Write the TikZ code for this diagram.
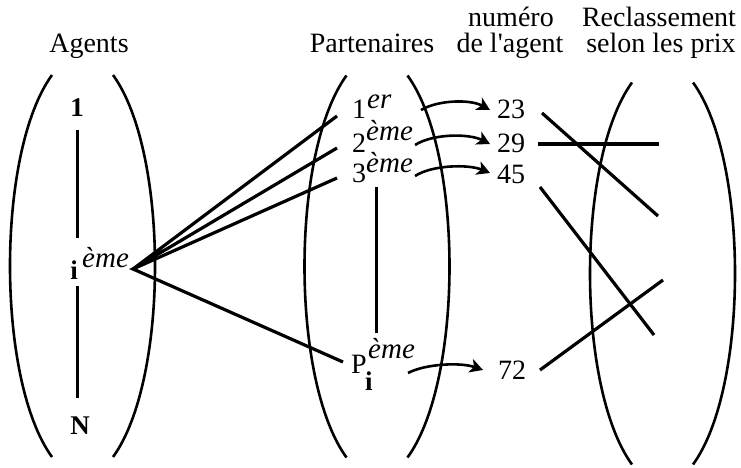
\documentclass[tikz,border=0pt]{standalone}
\usepackage{fontspec}
\setmainfont{Liberation Serif}
\usetikzlibrary{arrows.meta}
\begin{document}
\begin{tikzpicture}[x=1pt,y=-1pt,
  txt/.style={inner sep=0pt,font=\fontsize{28}{30}\selectfont},
  bld/.style={inner sep=0pt,font=\fontsize{27}{29}\selectfont\bfseries},
  sup/.style={inner sep=0pt,font=\fontsize{29}{30}\selectfont\itshape},
  paren/.style={line width=2.6pt},
  link/.style={line width=3.2pt},
  bar/.style={line width=3pt},
  arr/.style={line width=2.6pt,-{Stealth[length=13pt,width=14pt,inset=3.5pt]}}]
\useasboundingbox (0,0) rectangle (741,468);
% headings
\node[txt,anchor=base] (hAg) at (89,53) {Agents};
\node[txt,anchor=base] (hPa) at (372,53) {Partenaires};
\node[txt,anchor=base] (hNu1) at (511,27) {numéro};
\node[txt,anchor=base] (hNu2) at (510,53) {de l\textquotesingle agent};
\node[txt,anchor=base] (hRe1) at (659,27) {Reclassement};
\node[txt,anchor=base] (hRe2) at (661,53) {selon les prix};
% parentheses (elliptic arcs)
\foreach \cx/\cy in {82/266, 376.5/266.5, 662/273.5}{
  \draw[paren] (\cx-30,\cy-191) .. controls (\cx-86,\cy-114) and (\cx-86,\cy+114) .. (\cx-30,\cy+191);
  \draw[paren] (\cx+31,\cy-191) .. controls (\cx+87,\cy-114) and (\cx+87,\cy+114) .. (\cx+31,\cy+191);
}
% agents
\node[bld,anchor=base] (a1) at (77,117) {1};
\node[bld,anchor=base] (ai) at (74,279) {i};
\node[sup,anchor=base west] (aisup) at (82,267) {ème};
\node[bld,anchor=base] (aN) at (80,434) {N};
\coordinate (a1b) at (77,130);
\coordinate (aia) at (77,238);
\coordinate (aib) at (77,286);
\coordinate (aNa) at (77,398);
\draw[bar] (a1b) -- (aia);
\draw[bar] (aib) -- (aNa);
% partners
\node[txt,anchor=base west] (p1) at (352,118) {1};
\node[sup,anchor=base west] (p1s) at (367,109) {er};
\node[txt,anchor=base west] (p2) at (352,152) {2};
\node[sup,anchor=base west] (p2s) at (366,140) {ème};
\node[txt,anchor=base west] (p3) at (352,182) {3};
\node[sup,anchor=base west] (p3s) at (366,172) {ème};
\node[txt,anchor=base west] (pP) at (351,373) {P};
\node[bld,anchor=base west] (pPi) at (365,390) {i};
\node[sup,anchor=base west] (pPs) at (368,358) {ème};
\coordinate (pa) at (376,187);
\coordinate (pb) at (376,333);
\draw[bar] (pa) -- (pb);
% fan from agent i
\coordinate (v) at (133,269);
\coordinate (e1) at (337,116);
\coordinate (e2) at (337,148);
\coordinate (e3) at (337,178);
\coordinate (e4) at (343,362);
\draw[link] (e1) -- (v) -- (e2);
\draw[link] (e3) -- (v) -- (e4);
% agent numbers
\node[txt,anchor=base] (n23) at (511,118) {23};
\node[txt,anchor=base] (n29) at (511,152) {29};
\node[txt,anchor=base] (n45) at (511,183) {45};
\node[txt,anchor=base] (n72) at (512,379) {72};
% arrows
\coordinate (s1) at (421,110);
\coordinate (s2) at (415,145);
\coordinate (s3) at (415,176);
\coordinate (s4) at (408,373);
\coordinate (t1) at (490,110);
\coordinate (t2) at (490,144);
\coordinate (t3) at (490,173);
\coordinate (t4) at (483,370);
\draw[arr] (s1) .. controls (438,100) and (470,99) .. (t1);
\draw[arr] (s2) .. controls (432,134) and (468,133) .. (t2);
\draw[arr] (s3) .. controls (432,165) and (468,164) .. (t3);
\draw[arr] (s4) .. controls (425,364) and (460,362) .. (t4);
% reclassement lines
\coordinate (r23) at (542,113);
\coordinate (q23) at (658,216);
\coordinate (r29) at (538,144);
\coordinate (q29) at (659,144);
\coordinate (r45) at (540,187);
\coordinate (q45) at (654,335);
\coordinate (r72) at (540,370);
\coordinate (q72) at (663,280);
\draw[link] (r23) -- (q23);
\draw[link] (r29) -- (q29);
\draw[link] (r45) -- (q45);
\draw[link] (r72) -- (q72);
\end{tikzpicture}
\end{document}
